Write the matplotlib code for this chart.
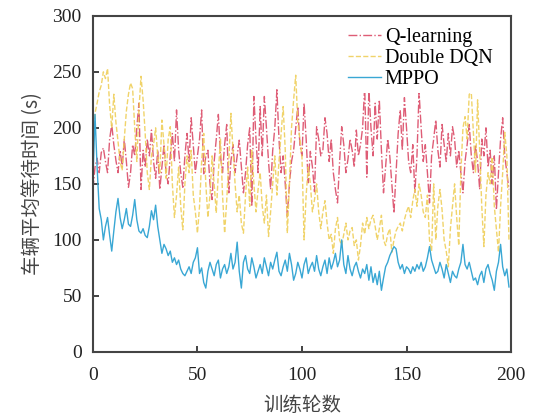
import matplotlib
matplotlib.use("Agg")
import matplotlib.pyplot as plt
import numpy as np

# ── data ──────────────────────────────────────────────────────────────────────
episodes = np.arange(200)

q_learning = [
    145, 165, 173, 160, 178, 182, 170, 160, 190, 203,
    185, 171, 160, 180, 165, 190, 170, 147, 160, 185,
    175, 200, 222, 145, 180, 165, 190, 175, 198, 170,
    155, 180, 145, 165, 185, 160, 150, 175, 195, 170,
    216, 180, 160, 147, 175, 195, 170, 209, 185, 160,
    175, 190, 216, 159, 175, 180, 150, 136, 170, 190,
    212, 175, 160, 185, 203, 142, 170, 185, 160, 175,
    189, 165, 142, 160, 185, 200, 130, 228, 190, 160,
    219, 175, 228, 200, 170, 145, 180, 200, 234, 190,
    160, 175, 150, 121, 150, 170, 180, 200, 219, 185,
    175, 222, 190, 151, 179, 165, 143, 201, 190, 175,
    180, 209, 195, 170, 190, 160, 145, 133, 170, 201,
    185, 160, 172, 190, 180, 165, 198, 175, 185, 200,
    237, 156, 234, 200, 175, 222, 190, 225, 180, 142,
    165, 190, 175, 150, 124, 160, 195, 216, 180, 227,
    200, 170, 160, 185, 142, 175, 232, 200, 170, 185,
    160, 133, 175, 190, 207, 180, 165, 203, 185, 170,
    195, 175, 201, 190, 165, 180, 160, 142, 170, 185,
    203, 175, 160, 185, 170, 145, 190, 175, 200, 165,
    180, 150, 175, 127, 160, 190, 209, 175, 160, 145,
]

double_dqn = [
    175, 213, 222, 232, 238, 250, 244, 253, 220, 200,
    230, 205, 188, 170, 162, 190, 215, 230, 240, 235,
    200, 170, 215, 246, 225, 195, 160, 145, 175, 185,
    200, 175, 160, 207, 185, 155, 190, 201, 150, 120,
    140, 165, 130, 109, 150, 175, 160, 180, 140, 125,
    106, 130, 170, 195, 150, 120, 140, 175, 150, 124,
    160, 190, 140, 106, 135, 170, 213, 180, 150, 125,
    140, 115, 106, 140, 165, 130, 180, 150, 125, 145,
    160, 130, 115, 140, 103, 125, 150, 175, 140, 170,
    195, 219, 180, 106, 150, 200, 225, 247, 205, 190,
    174, 100, 140, 165, 150, 125, 136, 150, 125, 110,
    125, 135, 115, 100, 105, 88, 110, 120, 100, 95,
    105, 115, 100, 108, 111, 95, 100, 82, 95, 115,
    105, 120, 110, 118, 122, 112, 100, 110, 122, 100,
    95, 105, 110, 89, 100, 108, 112, 115, 108, 118,
    125, 130, 120, 135, 145, 130, 150, 140, 125, 120,
    140, 100, 90, 150, 100, 130, 145, 127, 100, 90,
    76, 110, 130, 150, 120, 95, 160, 200, 210, 190,
    230, 231, 195, 160, 225, 180, 130, 94, 140, 160,
    150, 174, 130, 110, 89, 130, 160, 196, 175, 100,
]

mppo = [
    152, 212, 165, 128, 118, 100, 112, 120, 104, 90,
    108, 125, 137, 120, 110, 118, 128, 114, 112, 122,
    136, 118, 108, 106, 110, 104, 102, 112, 126, 118,
    131, 112, 100, 88, 96, 92, 86, 90, 80, 84,
    78, 82, 74, 70, 68, 72, 76, 70, 80, 84,
    93, 70, 75, 62, 57, 72, 80, 74, 68, 78,
    82, 66, 74, 78, 70, 76, 88, 74, 80, 98,
    72, 57, 80, 86, 74, 70, 84, 76, 66, 72,
    78, 70, 84, 76, 68, 80, 74, 82, 89, 72,
    68, 76, 82, 72, 88, 78, 64, 70, 80, 74,
    66, 78, 84, 70, 76, 80, 72, 86, 74, 68,
    76, 82, 70, 84, 74, 80, 88, 76, 82, 100,
    78, 70, 86, 74, 68, 76, 80, 72, 66, 74,
    70, 78, 64, 76, 62, 70, 60, 72, 55, 66,
    76, 80, 86, 90, 94, 92, 80, 74, 78, 70,
    76, 74, 70, 76, 72, 78, 74, 80, 72, 76,
    84, 94, 82, 76, 70, 72, 80, 74, 66, 78,
    70, 62, 72, 68, 66, 74, 80, 96, 78, 74,
    80, 72, 64, 66, 60, 68, 72, 62, 74, 78,
    70, 64, 55, 72, 80, 96, 76, 68, 74, 58,
]

labels = ["Q-learning", "Double DQN", "MPPO"]
xticks = [0, 50, 100, 150, 200]
yticks = [0, 50, 100, 150, 200, 250, 300]

# ── plot ──────────────────────────────────────────────────────────────────────
plt.rcParams["font.family"] = ["Liberation Serif", "DejaVu Serif"]
cjk = ["Noto Sans CJK SC", "DejaVu Sans"]

fig = plt.figure(figsize=(5.34, 4.16), dpi=100)
ax = fig.add_axes([0.174, 0.154, 0.783, 0.808])

ax.plot(episodes, q_learning, color="#d9405e", lw=1.0, ls="-.", alpha=0.85,
        label=labels[0])
ax.plot(episodes, double_dqn, color="#efcf5a", lw=1.0, ls="--", alpha=0.9,
        label=labels[1])
ax.plot(episodes, mppo, color="#39a7d4", lw=1.0, ls="-", label=labels[2])

ax.set_xlim(0, 200)
ax.set_ylim(0, 300)
ax.set_xticks(xticks)
ax.set_yticks(yticks)
ax.tick_params(direction="in", length=4, width=1.2, labelsize=14,
               colors="#222222")
ax.tick_params(axis="x", pad=11)
ax.tick_params(axis="y", pad=8)
for sp in ax.spines.values():
    sp.set_linewidth(1.5)
    sp.set_color("#444444")

ax.set_xlabel("训练轮数", family=cjk, fontsize=14, color="#444444", labelpad=8)
ax.set_ylabel("车辆平均等待时间 (s)", family=cjk, fontsize=14, color="#444444",
              labelpad=7)

leg = ax.legend(loc="upper right", bbox_to_anchor=(0.965, 0.975), fontsize=14.5,
                frameon=True, handlelength=1.6, handletextpad=0.2,
                labelspacing=0.08, borderaxespad=0.0, borderpad=0.2)
leg.get_frame().set_facecolor("white")
leg.get_frame().set_edgecolor("none")
leg.get_frame().set_alpha(1.0)

plt.savefig("out.png", dpi=100)
plt.close()
